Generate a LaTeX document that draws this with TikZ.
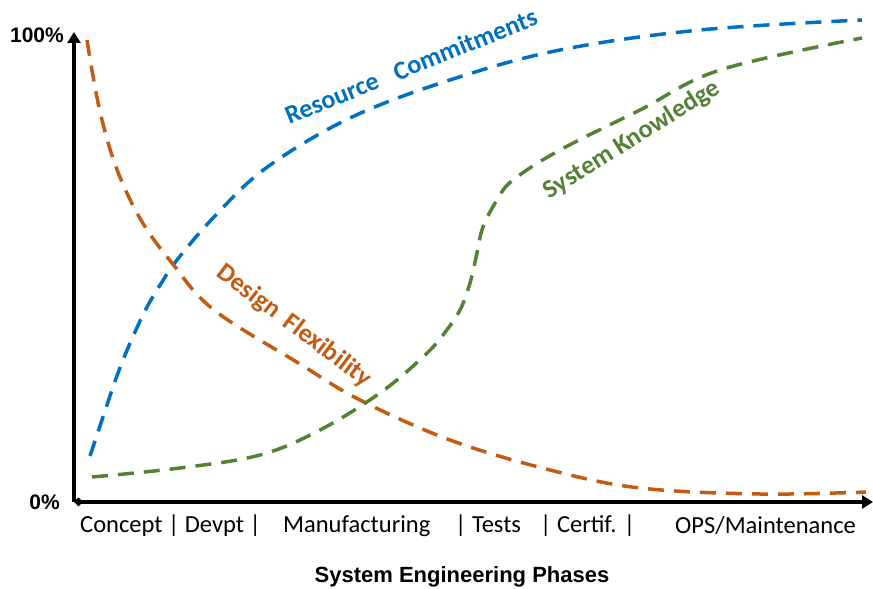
\documentclass[tikz,border=0pt]{standalone}
\usepackage{fontspec}
\setmainfont{Carlito}
\newfontfamily\axisfont{Liberation Sans}
\usetikzlibrary{arrows.meta}
\definecolor{resblue}{RGB}{0,112,192}
\definecolor{flexorange}{RGB}{197,90,17}
\definecolor{knowgreen}{RGB}{84,130,53}
\begin{document}
\begin{tikzpicture}[
x=1pt, y=1pt,
  axis/.style = {line width=3.5pt, black},% axes of the chart
 curve/.style = {line width=3.5pt, dash pattern=on 16pt off 10pt},
 clabel/.style = {font=\fontsize{26}{26}\selectfont\bfseries, inner sep=0pt},
 phase/.style = {font=\fontsize{24.5}{24.5}\selectfont, anchor=west, inner sep=0pt},
   ylab/.style = {font=\axisfont\fontsize{21}{21}\selectfont\bfseries, anchor=east, inner sep=0pt},
                    ]
\useasboundingbox (0,0) rectangle (873,589);
\coordinate (O) at (74,87);
\coordinate (Ytop) at (74,557);
\coordinate (Xend) at (873,87);
\draw[axis, -{Triangle[length=11pt,width=13pt]}] (O) -- (Ytop);
\draw[axis, {Diamond[length=9pt,width=9pt]}-{Triangle[length=11pt,width=13pt]}] (O) -- (Xend);
\node[ylab] (top) at (64,554) {100\%};
\node[ylab] (bot) at (60,87) {0\%};
% curves
\draw[curve, resblue] plot[smooth, tension=0.6] coordinates {(90,133) (103,172) (113,202) (123,229) (135,257) (147,282) (162,307) (177,329) (214,372) (266,421) (350,471) (450,509) (560,539) (700,559) (862,569)};
\draw[curve, flexorange] plot[smooth, tension=0.6] coordinates {(87,549) (99,482) (116,422) (141,369) (172,326) (214,279) (300,225) (360,189) (450,149) (550,119) (640,101) (760,95) (866,97)};
\draw[curve, knowgreen] plot[smooth, tension=0.6] coordinates {(92,112) (180,121) (260,134) (320,159) (380,196) (423,232) (443,254) (460,279) (470,306) (477,336) (483,362) (497,389) (513,409) (560,439) (640,479) (720,519) (862,551)};
% curve labels
\node[clabel, resblue, rotate=22] (res) at (411,523) {Resource\hspace{0.7em}Commitments};
\node[clabel, flexorange, rotate=-37] (flex) at (294,263) {Design\hspace{0.4em}Flexibility};
\node[clabel, knowgreen, rotate=32] (know) at (632,449) {System Knowledge};
% phases
\foreach \x/\t [count=\i] in {80/{Concept | Devpt |}, 283/{Manufacturing}, 455/{| Tests}, 540/{| Certif. |}, 675/{OPS/Maintenance}}
    \node[phase] (ph-\i) at (\x,63) {\t};
\node[font=\axisfont\fontsize{22}{22}\selectfont\bfseries, inner sep=0pt] (title) at (462,12) {System Engineering Phases};
\end{tikzpicture}
\end{document}
